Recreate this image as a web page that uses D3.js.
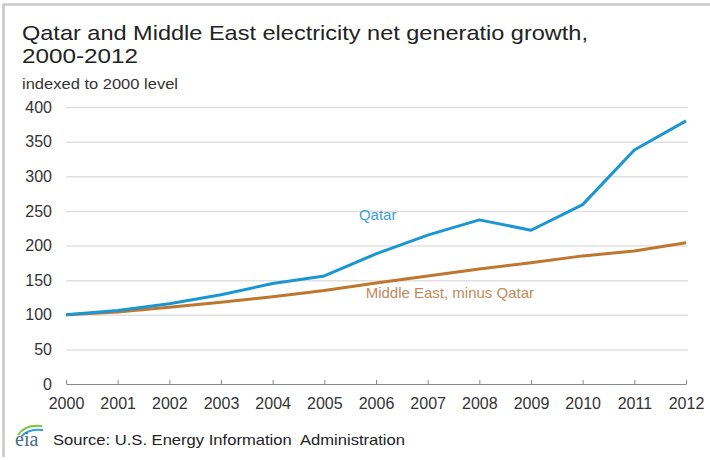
<!DOCTYPE html>
<html>
<head>
<meta charset="utf-8">
<script src="https://cdn.jsdelivr.net/npm/d3@7"></script>
<style>
  body { margin: 0; background: #fff; }
  svg { font-family: "Liberation Sans", Arial, sans-serif; }
</style>
</head>
<body>
<div id="chart"></div>
<script>
// data
const years = [2000, 2001, 2002, 2003, 2004, 2005, 2006, 2007, 2008, 2009, 2010, 2011, 2012]
const qatar = [100, 106, 116, 129, 145, 156, 188, 215, 237, 222, 259, 338, 380]
const middleEast = [100, 104, 111, 118, 126, 135, 146, 156, 166, 175, 185, 192, 204]
const yTicks = [0, 50, 100, 150, 200, 250, 300, 350, 400]

const width = 710, height = 460
const margin = { top: 107, right: 24, bottom: 76, left: 66 }

const svg = d3.select("#chart").append("svg")
  .attr("width", width)
  .attr("height", height)

// frame
svg.append("path")
  .attr("d", "M3.5,457 L3.5,4.5 L712,4.5")
  .attr("fill", "none")
  .attr("stroke", "#c8c8c8")
  .attr("stroke-width", 2.5)

const x = d3.scaleLinear().domain([2000, 2012]).range([margin.left, width - margin.right])
const y = d3.scaleLinear().domain([0, 400]).range([height - margin.bottom, margin.top])

//title (source image is a bit stretched sideways, so fit text widths)
svg.append("text").attr("x", 22).attr("y", 40)
  .attr("font-size", 21).attr("fill", "#222")
  .attr("textLength", 566).attr("lengthAdjust", "spacingAndGlyphs")
  .text("Qatar and Middle East electricity net generatio growth,")
svg.append("text").attr("x", 22).attr("y", 63)
  .attr("font-size", 21).attr("fill", "#222")
  .attr("textLength", 116).attr("lengthAdjust", "spacingAndGlyphs")
  .text("2000-2012")
svg.append("text").attr("x", 22).attr("y", 89)
  .attr("font-size", 14).attr("fill", "#333")
  .attr("textLength", 156).attr("lengthAdjust", "spacingAndGlyphs")
  .text("indexed to 2000 level")

//gridlines + y labels
const yAxis = d3.axisLeft(y)
  .tickValues(yTicks)
  .tickSize(-(width - margin.left - margin.right + 2))
  .tickPadding(14)
  .tickFormat(d3.format("d"))

svg.append("g")
  .attr("transform", `translate(${margin.left},0)`)
  .call(yAxis)
  .call(g => g.select(".domain").remove())
  .call(g => g.selectAll(".tick line").attr("stroke", "#e0e0e0").attr("stroke-width", 1.5))
  .call(g => g.selectAll(".tick").filter(d => d === 0).select("line").remove())
  .call(g => g.selectAll("text")
    .attr("font-size", 16).attr("fill", "#333")
    .attr("font-family", "Liberation Sans, Arial, sans-serif"))

//x axis
const xAxis = d3.axisBottom(x)
  .tickValues(years)
  .tickSize(0)
  .tickPadding(14)
  .tickFormat(d3.format("d"))

svg.append("g")
  .attr("transform", `translate(0,${y(0)})`)
  .call(xAxis)
  .call(g => g.select(".domain").attr("stroke", "#8a8a8a").attr("stroke-width", 1.2))
  .call(g => g.selectAll(".tick").append("line")
    .attr("y1", 0).attr("y2", -4)
    .attr("stroke", "#8a8a8a"))
  .call(g => g.selectAll("text")
    .attr("font-size", 16).attr("fill", "#333")
    .attr("font-family", "Liberation Sans, Arial, sans-serif"))

//lines
const line = d3.line()
  .x((d, i) => x(years[i]))
  .y(d => y(d))

svg.append("path")
  .datum(middleEast)
  .attr("d", line)
  .attr("fill", "none")
  .attr("stroke", "#bf762e")
  .attr("stroke-width", 3)
  .attr("stroke-linejoin", "round")

svg.append("path")
  .datum(qatar)
  .attr("d", line)
  .attr("fill", "none")
  .attr("stroke", "#1a96d2")
  .attr("stroke-width", 3)
  .attr("stroke-linejoin", "round")

//series labels
svg.append("text").attr("x", x(2005.67)).attr("y", y(237))
  .attr("font-size", 15).attr("fill", "#3c9fd6")
  .text("Qatar")
svg.append("text").attr("x", x(2005.8)).attr("y", y(124))
  .attr("font-size", 15).attr("fill", "#c28a5c")
  .text("Middle East, minus Qatar")

//source + eia logo
const logo = svg.append("g").attr("transform", "translate(15,446)")
logo.append("path")
  .attr("d", "M3,-11 Q10,-22 27,-20")
  .attr("fill", "none").attr("stroke", "#7cc242").attr("stroke-width", 2)
logo.append("path")
  .attr("d", "M6,-9 Q13,-18 28,-16")
  .attr("fill", "none").attr("stroke", "#2aa0d8").attr("stroke-width", 2)
logo.append("text")
  .attr("x", 0).attr("y", 0)
  .attr("font-family", "Liberation Serif, Times New Roman, serif")
  .attr("font-size", 20).attr("fill", "#4a6a8a")
  .text("eia")

svg.append("text").attr("x", 53).attr("y", 445)
  .attr("font-size", 15).attr("fill", "#222")
  .attr("xml:space", "preserve")
  .attr("textLength", 352).attr("lengthAdjust", "spacingAndGlyphs")
  .text("Source: U.S. Energy Information  Administration")
</script>
</body>
</html>
